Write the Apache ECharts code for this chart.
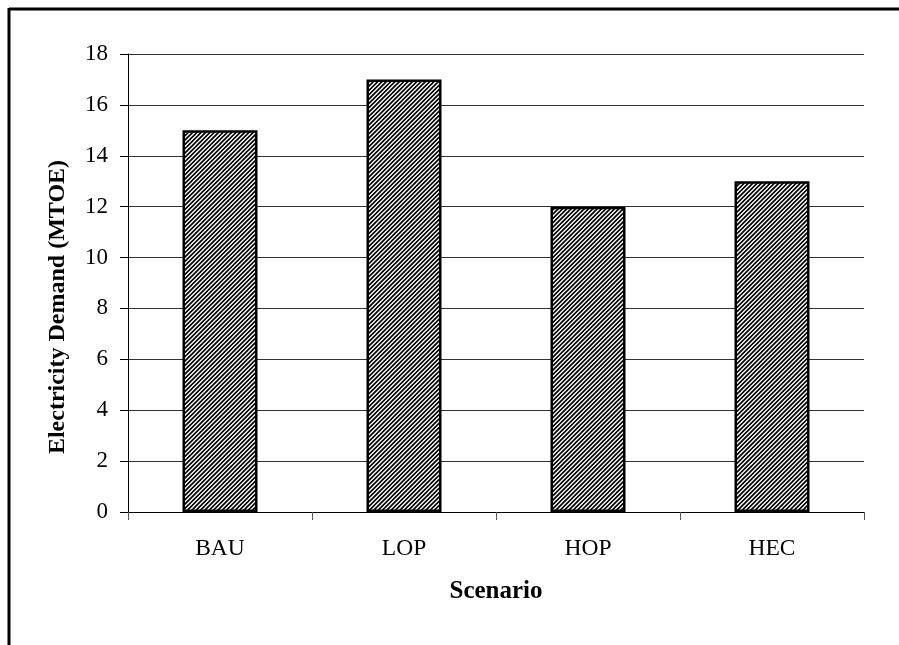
<!DOCTYPE html>
<html>
<head>
<meta charset="utf-8">
<script src="https://cdn.jsdelivr.net/npm/echarts@6/dist/echarts.min.js"></script>
<style>html,body{margin:0;padding:0;background:#fff;}#c{width:899px;height:645px;}</style>
</head>
<body>
<div id="c"></div>
<script>
var categories = ['BAU', 'LOP', 'HOP', 'HEC'];
var demandValues = [15, 17, 12, 13];
var yTicks = [0, 2, 4, 6, 8, 10, 12, 14, 16, 18];

function makeHatch() {
  var s = 13;
  var cv = document.createElement('canvas');
  cv.width = s; cv.height = s;
  var ctx = cv.getContext('2d');
  ctx.fillStyle = '#fff';
  ctx.fillRect(0, 0, s, s);
  ctx.strokeStyle = '#000';
  ctx.lineWidth = 1.7;
  ctx.beginPath();
  for (var k = -3; k <= 9; k++) {
    var c = k * s / 3;
    ctx.moveTo(c + 2, -2); ctx.lineTo(c - s - 2, s + 2);
  }
  ctx.stroke();
  return cv;
}

var chart = echarts.init(document.getElementById('c'), null, {renderer: 'canvas'});
var font = '"Liberation Serif", "Times New Roman", serif';
chart.setOption({
  animation: false,
  backgroundColor: '#fff',
  grid: {left: 128, right: 35, top: 54, bottom: 133},
  graphic: [
    {type: 'line', shape: {x1: 9, y1: 9, x2: 899, y2: 9}, style: {stroke: '#000', lineWidth: 3}},
    {type: 'line', shape: {x1: 9, y1: 8, x2: 9, y2: 645}, style: {stroke: '#000', lineWidth: 3}}
  ],
  xAxis: {
    type: 'category',
    data: categories,
    name: 'Scenario',
    nameLocation: 'middle',
    nameGap: 67,
    nameTextStyle: {fontFamily: font, fontWeight: 'bold', fontSize: 25, color: '#000'},
    axisLine: {lineStyle: {color: '#000', width: 1}},
    axisTick: {show: true, length: 8, inside: false, lineStyle: {color: '#555'}},
    axisLabel: {fontFamily: font, fontSize: 23.5, color: '#000', margin: 25}
  },
  yAxis: {
    type: 'value',
    min: 0, max: 18, interval: 2,
    name: 'Electricity Demand (MTOE)',
    nameLocation: 'middle',
    nameGap: 58,
    nameTextStyle: {fontFamily: font, fontWeight: 'bold', fontSize: 24, color: '#000',
      padding: [0, 48, 0, 0]},
    axisLine: {show: true, lineStyle: {color: '#000', width: 1}},
    axisTick: {show: true, length: 8, lineStyle: {color: '#000'}},
    axisLabel: {fontFamily: font, fontSize: 23, color: '#000', margin: 20,
      formatter: function (v) { return yTicks.indexOf(v) >= 0 ? String(v) : ''; }},
    splitLine: {show: true, lineStyle: {color: '#333', width: 1}}
  },
  series: [{
    type: 'bar',
    data: demandValues,
    barWidth: 75,
    itemStyle: {
      color: {image: makeHatch(), repeat: 'repeat'},
      borderColor: '#000',
      borderWidth: 2.5
    }
  }]
});
</script>
</body>
</html>
